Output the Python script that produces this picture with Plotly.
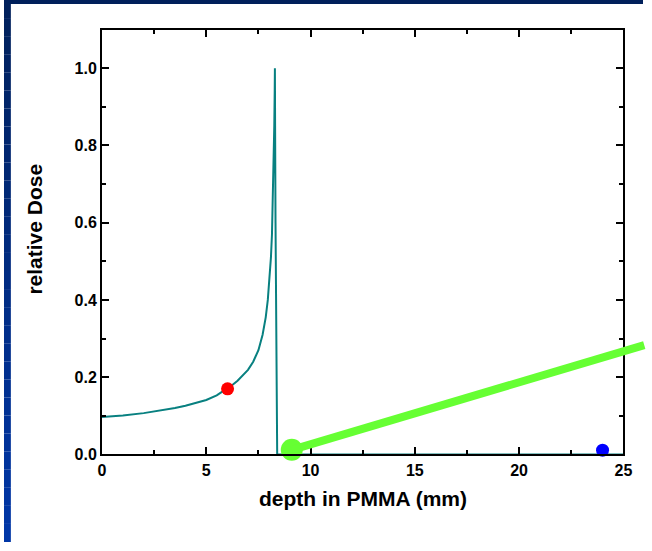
import plotly.graph_objects as go

# ---- data ----
depth_mm = [0.0, 1.0, 2.0, 3.0, 3.5, 4.0, 4.5, 5.0, 5.5, 6.0, 6.25, 6.5, 6.75, 7.0, 7.25,
            7.5, 7.7, 7.85, 7.95, 8.03, 8.1, 8.15, 8.19, 8.23, 8.26, 8.28, 8.29,
            8.30, 8.32, 8.34, 8.36, 8.38, 8.40, 10.0, 15.0, 20.0, 25.0]
rel_dose = [0.097, 0.101, 0.107, 0.115, 0.120, 0.126, 0.133, 0.141, 0.153, 0.170, 0.180,
            0.191, 0.204, 0.219, 0.240, 0.270, 0.310, 0.355, 0.400, 0.450, 0.510, 0.570,
            0.650, 0.750, 0.850, 0.940, 1.000,
            0.85, 0.60, 0.35, 0.12, 0.02, 0.0, 0.0, 0.0, 0.0, 0.0]
red_pt = ([6.02], [0.170])
blue_pt = ([24.0], [0.011])
green_x = [9.1, 26.0]
green_y = [0.012, 0.283]

x_ticks = [0, 5, 10, 15, 20, 25]
y_ticks = [0.0, 0.2, 0.4, 0.6, 0.8, 1.0]
x_range = [0, 25]
y_range = [0, 1.1]

# ---- layout geometry ----
W, H = 652, 551
px0, px1, py_bot, py_top = 100, 632, 462, 30
xdom = [px0 / W, px1 / W]
ydom = [(H - py_bot) / H, (H - py_top) / H]

def to_px(v):
    return xdom[0] + (v - x_range[0]) / (x_range[1] - x_range[0]) * (xdom[1] - xdom[0])

def to_py(v):
    return ydom[0] + (v - y_range[0]) / (y_range[1] - y_range[0]) * (ydom[1] - ydom[0])

FONT = "Liberation Sans, Arial, sans-serif"
TEAL = "#088080"
GREEN = "#66ff33"

fig = go.Figure()
fig.add_trace(go.Scatter(x=depth_mm, y=rel_dose, mode="lines",
                         line=dict(color=TEAL, width=2), showlegend=False, hoverinfo="skip"))
fig.add_trace(go.Scatter(x=red_pt[0], y=red_pt[1], mode="markers",
                         marker=dict(color="#ff0000", size=13), cliponaxis=False, showlegend=False))
fig.add_trace(go.Scatter(x=blue_pt[0], y=blue_pt[1], mode="markers",
                         marker=dict(color="#0000ff", size=13), cliponaxis=False, showlegend=False))
fig.add_trace(go.Scatter(x=[green_x[0]], y=[green_y[0]], mode="markers",
                         marker=dict(color=GREEN, size=22), cliponaxis=False, showlegend=False))

shapes = []
# dark top band
shapes.append(dict(type="rect", xref="paper", yref="paper", x0=0, x1=1, y0=(H - 4) / H, y1=1,
                   fillcolor="#00205b", line=dict(width=0), layer="below"))
# left gradient strip
n = 30
c0 = (0x00, 0x20, 0x5b)
c1 = (0x00, 0x36, 0xa6)
for i in range(n):
    t = i / (n - 1)
    c = tuple(int(round(a + (b - a) * t)) for a, b in zip(c0, c1))
    shapes.append(dict(type="rect", xref="paper", yref="paper", x0=0, x1=7 / W,
                       y0=1 - (i + 1) / n, y1=1 - i / n,
                       fillcolor="rgb(%d,%d,%d)" % c, line=dict(width=0), layer="below"))
# green line (extends past the frame)
shapes.append(dict(type="line", xref="paper", yref="paper",
                   x0=to_px(green_x[0]), y0=to_py(green_y[0]),
                   x1=to_px(green_x[1]), y1=to_py(green_y[1]),
                   line=dict(color=GREEN, width=8), layer="above"))

axis_common = dict(showline=True, linewidth=2, linecolor="black", mirror="ticks",
                   ticks="inside", ticklen=7, tickwidth=1.5, tickcolor="black",
                   showgrid=False, zeroline=False,
                   tickfont=dict(family=FONT, size=16, color="black", weight="bold"))

fig.update_layout(
    width=W, height=H, margin=dict(l=0, r=0, t=0, b=0),
    paper_bgcolor="white", plot_bgcolor="white",
    shapes=shapes,
    xaxis=dict(domain=xdom, range=x_range, tickvals=x_ticks,
               ticktext=[str(v) for v in x_ticks],
               minor=dict(ticks="inside", dtick=2.5, ticklen=4, tickwidth=1.5, tickcolor="black"),
               **axis_common),
    yaxis=dict(domain=ydom, range=y_range, tickvals=y_ticks,
               ticktext=["%.1f" % v for v in y_ticks],
               minor=dict(ticks="inside", dtick=0.1, ticklen=4, tickwidth=1.5, tickcolor="black"),
               **axis_common),
    annotations=[
        dict(text="depth in PMMA (mm)", xref="paper", yref="paper",
             x=(px0 + px1) / 2 / W, y=(H - 507) / H, showarrow=False,
             xanchor="center", yanchor="middle",
             font=dict(family=FONT, size=21, color="black", weight="bold")),
        dict(text="relative Dose", xref="paper", yref="paper",
             x=31 / W, y=(H - 233) / H, showarrow=False, textangle=-90,
             xanchor="center", yanchor="middle",
             font=dict(family=FONT, size=21, color="black", weight="bold")),
    ],
)

fig.write_html("out.html", config={"responsive": False},
               post_script="document.body.style.margin='0';document.body.style.overflow='hidden';")
